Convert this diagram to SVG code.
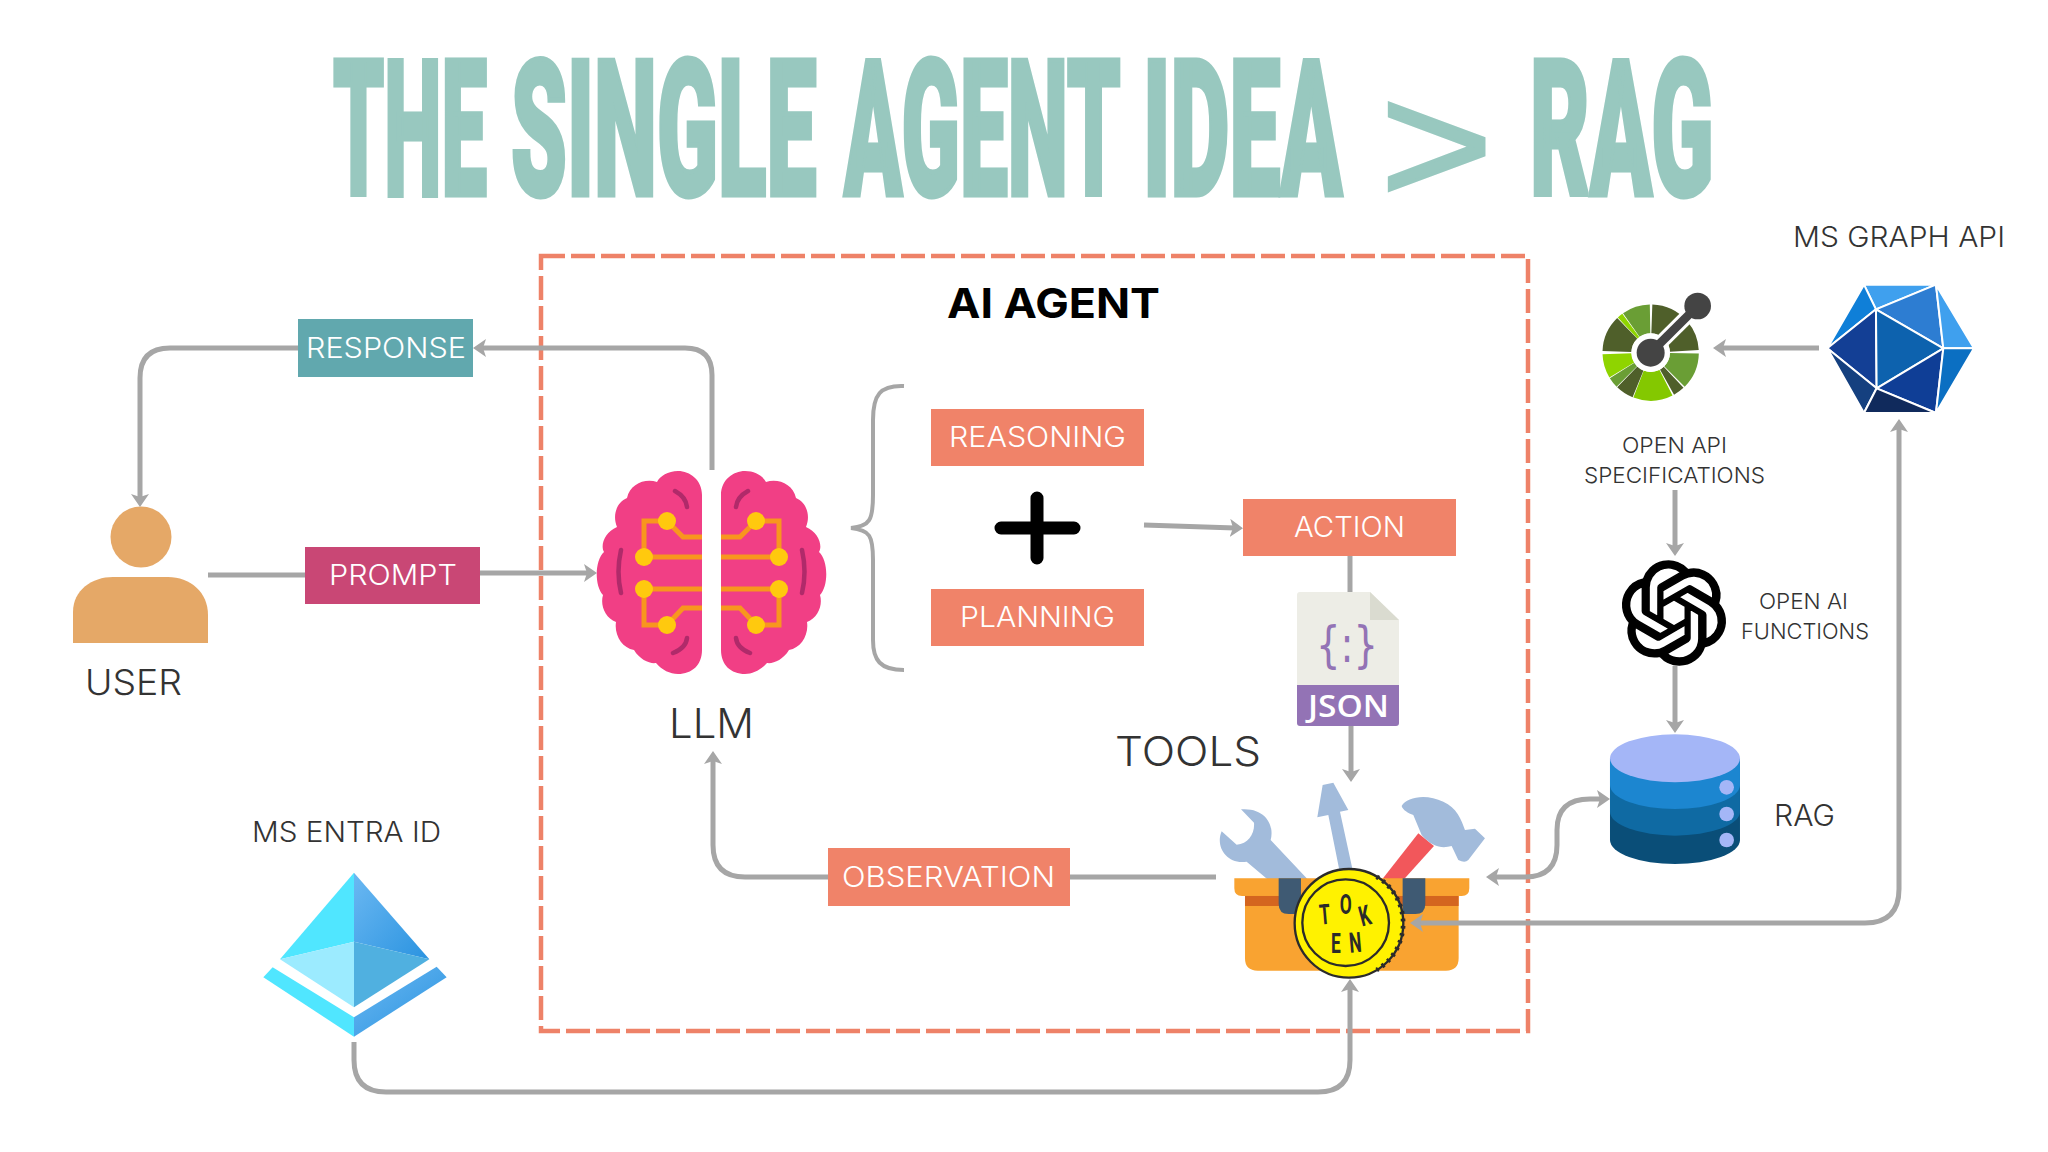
<svg xmlns="http://www.w3.org/2000/svg" width="2048" height="1152" viewBox="0 0 2048 1152">
<style>
text{font-family:"Inter","Liberation Sans",sans-serif}
.ttl{font-family:"Roboto","Liberation Sans",sans-serif;font-weight:900;font-size:190px;fill:#98C8BF;stroke:#98C8BF;stroke-width:5}
.box{font-size:28px;font-weight:300;fill:#fff}
.lbl{font-weight:300;fill:#333;stroke:none}
.sm{font-size:22px}.md{font-size:28px}.lg{font-size:36px}.xl{font-size:41px}
.c{fill:none;stroke:#A6A6A6;stroke-width:5}
.a{marker-end:url(#arr)}.d{marker-start:url(#arr);marker-end:url(#arr)}
.coinl{font-family:"Roboto",sans-serif;font-size:84px;font-weight:700;fill:#2B2B2B;text-anchor:middle}
.w{stroke:#fff;stroke-width:6;stroke-linejoin:round}
.s{fill:none;stroke-width:87}
</style>
<defs>
<marker id="arr" markerUnits="userSpaceOnUse" viewBox="0 0 13 18" refX="5" refY="9" markerWidth="13" markerHeight="18" orient="auto-start-reverse"><path d="M0 0L13 9L0 18L3 9Z" fill="#A6A6A6"/></marker>
<linearGradient id="eg" x1="0" y1="0" x2="1" y2="1"><stop offset="0" stop-color="#6BB8F2"/><stop offset="1" stop-color="#2A93E0"/></linearGradient>
<g id="lobe">
<path d="M702 495C702 480 690 471 678 471C668 471 660 476 657 482C645 478 630 484 627 498C617 502 612 515 617 527C605 532 600 545 604 552C595 560 594 585 603 595C600 605 605 618 616 622C614 635 622 648 634 650C640 660 650 664 656 663C662 670 670 674 678 674C692 674 702 665 702 650Z" fill="#F13F85"/>
<path d="M667 521H644V557M644 557H702M667 521L683 537H702M644 589H702M644 589V625H667M667 625L683 608H702" fill="none" stroke="#F8961E" stroke-width="5"/>
<g fill="#FFC90E"><circle cx="667" cy="521" r="9"/><circle cx="644" cy="557" r="9"/><circle cx="644" cy="589" r="9"/><circle cx="667" cy="625" r="9"/></g>
<path d="M675 491Q686 497 687 507M673 653Q686 648 687 638M621 550Q616 572 621 593" fill="none" stroke="#B02A6A" stroke-width="4.500" stroke-linecap="round"/>
</g>
</defs>
<rect width="2048" height="1152" fill="#fff"/>
<g id="title">
<text class="ttl" transform="translate(333 194.500) scale(.428 1)">THE</text>
<text class="ttl" transform="translate(511 194.500) scale(.471 1)">SINGLE</text>
<text class="ttl" transform="translate(844 194.500) scale(.451 1)">AGENT</text>
<text class="ttl" transform="translate(1143 194.500) scale(.479 1)">IDEA</text>
<text transform="translate(1380 203) scale(1.14 1)" style="font-family:'Liberation Sans',sans-serif;font-size:170px;fill:#98C8BF;stroke:#98C8BF;stroke-width:3">&gt;</text>
<text class="ttl" transform="translate(1530 194.500) scale(.482 1)">RAG</text>
</g>
<g id="agent-frame">
<rect x="541" y="256" width="987" height="775" fill="none" stroke="#EE8268" stroke-width="4.500" stroke-dasharray="24 6"/>
<text x="947" y="318" textLength="213" lengthAdjust="spacingAndGlyphs" style="font-size:41px;font-weight:700;fill:#000">AI AGENT</text>
</g>
<g id="user">
<circle cx="141" cy="537" r="30.500" fill="#E5A867"/>
<path d="M73 643V612C73 590 92 577 113 577H168C190 577 208 592 208 615V643Z" fill="#E5A867"/>
<text class="lbl lg" x="85" y="695" textLength="97" lengthAdjust="spacingAndGlyphs">USER</text>
</g>
<g id="response"><rect x="298" y="319" width="175" height="58" fill="#61A8AE"/><text class="box" x="306" y="358" textLength="160" lengthAdjust="spacingAndGlyphs">RESPONSE</text></g>
<g id="prompt"><rect x="305" y="547" width="175" height="57" fill="#C94775"/><text class="box" x="329" y="585" textLength="128" lengthAdjust="spacingAndGlyphs">PROMPT</text></g>
<g id="llm">
<use href="#lobe"/><use href="#lobe" transform="matrix(-1 0 0 1 1423 0)"/>
<text class="lbl xl" x="669" y="738" textLength="85" lengthAdjust="spacingAndGlyphs">LLM</text>
</g>
<g id="reasoning"><rect x="931" y="409" width="213" height="57" fill="#F08369"/><text class="box" x="949" y="447" textLength="177" lengthAdjust="spacingAndGlyphs">REASONING</text></g>
<g id="plus"><path d="M1001 528H1074M1037 498V558" stroke="#000" stroke-width="13" stroke-linecap="round"/></g>
<g id="planning"><rect x="931" y="589" width="213" height="57" fill="#F08369"/><text class="box" x="960" y="627" textLength="155" lengthAdjust="spacingAndGlyphs">PLANNING</text></g>
<g id="action"><rect x="1243" y="499" width="213" height="57" fill="#F08369"/><text class="box" x="1294" y="537" textLength="111" lengthAdjust="spacingAndGlyphs">ACTION</text></g>
<g id="observation"><rect x="828" y="848" width="242" height="58" fill="#F08369"/><text class="box" x="842" y="887" textLength="213" lengthAdjust="spacingAndGlyphs">OBSERVATION</text></g>
<g id="json">
<path d="M1300 592H1370L1399 620V685H1297V595Q1297 592 1300 592Z" fill="#EDEDE6"/>
<path d="M1370 592L1399 620H1370Z" fill="#DADBD0"/>
<path d="M1297 685H1399V723Q1399 726 1396 726H1300Q1297 726 1297 723Z" fill="#9373B5"/>
<text x="1316" y="662" textLength="62" lengthAdjust="spacingAndGlyphs" style="font-family:'DejaVu Sans',sans-serif;font-size:50px;fill:#9373B5">{:}</text>
<text x="1308" y="717" textLength="81" lengthAdjust="spacingAndGlyphs" style="font-family:'Open Sans',sans-serif;font-size:31px;font-weight:600;fill:#fff">JSON</text>
</g>
<text id="tools-label" class="lbl xl" x="1115" y="766" textLength="146" lengthAdjust="spacingAndGlyphs">TOOLS</text>
<g id="tools" transform="translate(1180 720) scale(.3333)">
<path d="M385 480L272 360C285 310 250 262 183 268L222 308C225 340 205 372 170 374L125 334C105 380 140 435 200 425L265 480Z" fill="#A2BBDB"/>
<path d="M478 450L518 450L480 275L505 270L460 188L428 195L412 292L445 285Z" fill="#A2BBDB"/>
<path d="M605 480L715 340L762 378L670 480Z" fill="#F2575B"/>
<path d="M665 258C680 230 740 220 790 245C830 262 845 300 855 330L885 326L915 355L865 420Q855 430 835 420L815 378C790 385 760 385 725 345L700 285C685 280 668 270 665 258Z" fill="#A2BBDB"/>
<path d="M163 475H868V505Q868 528 845 528H836V715Q836 752 798 752H233Q195 752 195 715V528H186Q163 528 163 505Z" fill="#F9A331"/>
<rect x="195" y="528" width="641" height="30" fill="#D4651F"/>
<path d="M296 475H363V582H326Q296 582 296 552Z" fill="#3F5A73"/>
<path d="M668 475H736V552Q736 582 706 582H668Z" fill="#3F5A73"/>
<circle cx="507" cy="610" r="163" fill="#FFF200" stroke="#2B2B2B" stroke-width="7"/>
<path d="M590 470A163 163 0 0 1 590 750" fill="none" stroke="#2B2B2B" stroke-width="14" stroke-dasharray="8 14"/>
<circle cx="497" cy="608" r="130" fill="#FFF200" stroke="#2B2B2B" stroke-width="7"/>
<text class="coinl" transform="translate(437 612) rotate(-5) scale(.62 1)">T</text>
<text class="coinl" transform="translate(497 582) scale(.62 1)">O</text>
<text class="coinl" transform="translate(562 615) rotate(-15) scale(.62 1)">K</text>
<text class="coinl" transform="translate(468 700) scale(.62 1)">E</text>
<text class="coinl" transform="translate(528 697) rotate(-5) scale(.62 1)">N</text>
</g>
<g id="entra" transform="translate(230 860) scale(.3333)">
<path d="M372 38L150 298L372 245Z" fill="#50E6FF"/>
<path d="M372 38L598 298L372 245Z" fill="url(#eg)"/>
<path d="M150 298L372 245V442Z" fill="#9CEBFF"/>
<path d="M598 298L372 245V442Z" fill="#50B0E0"/>
<path d="M128 322L100 352L372 530V472Z" fill="#50E6FF"/>
<path d="M620 320L650 352L372 530V472Z" fill="url(#eg)"/>
</g>
<text id="entra-label" class="lbl md" x="252" y="842" textLength="189" lengthAdjust="spacingAndGlyphs">MS ENTRA ID</text>
<g id="openapi" transform="translate(1560 200) scale(.3333)">
<circle class="s" cx="272" cy="458" r="101" pathLength="360" stroke="#4F5F2A" stroke-dasharray="47 313" transform="rotate(-88 272 458)"/>
<circle class="s" cx="272" cy="458" r="101" pathLength="360" stroke="#6A9E35" stroke-dasharray="34 326" transform="rotate(-125 272 458)"/>
<circle class="s" cx="272" cy="458" r="101" pathLength="360" stroke="#8FD400" stroke-dasharray="7 353" transform="rotate(-133 272 458)"/>
<circle class="s" cx="272" cy="458" r="101" pathLength="360" stroke="#4F5F2A" stroke-dasharray="44 316" transform="rotate(-178 272 458)"/>
<circle class="s" cx="272" cy="458" r="101" pathLength="360" stroke="#4F5F2A" stroke-dasharray="38 322" transform="rotate(-41 272 458)"/>
<circle class="s" cx="272" cy="458" r="101" pathLength="360" stroke="#6A9E35" stroke-dasharray="44 316" transform="rotate(1 272 458)"/>
<circle class="s" cx="272" cy="458" r="101" pathLength="360" stroke="#4F5F2A" stroke-dasharray="14 346" transform="rotate(47 272 458)"/>
<circle class="s" cx="272" cy="458" r="101" pathLength="360" stroke="#84C800" stroke-dasharray="48 312" transform="rotate(63 272 458)"/>
<circle class="s" cx="272" cy="458" r="101" pathLength="360" stroke="#4F5F2A" stroke-dasharray="22 338" transform="rotate(112 272 458)"/>
<circle class="s" cx="272" cy="458" r="101" pathLength="360" stroke="#6A9E35" stroke-dasharray="13 347" transform="rotate(135 272 458)"/>
<circle class="s" cx="272" cy="458" r="101" pathLength="360" stroke="#8FD400" stroke-dasharray="29 331" transform="rotate(149 272 458)"/>
<circle cx="272" cy="458" r="58" fill="#fff"/>
<path d="M272 458L413 318" stroke="#fff" stroke-width="44"/>
<path d="M272 458L413 318" stroke="#444" stroke-width="26"/>
<circle cx="272" cy="458" r="42" fill="#444"/>
<circle cx="413" cy="318" r="40" fill="#444"/>
</g>
<g id="openapi-label">
<text class="lbl sm" x="1622" y="453" textLength="105" lengthAdjust="spacingAndGlyphs">OPEN API</text>
<text class="lbl sm" x="1584" y="483" textLength="181" lengthAdjust="spacingAndGlyphs">SPECIFICATIONS</text>
</g>
<g id="graph" transform="translate(1560 200) scale(.3333)">
<path class="w" d="M912 254H1128L948 328Z" fill="#3FA0EE"/>
<path class="w" d="M912 254L948 328L802 445Z" fill="#0F7FD8"/>
<path class="w" d="M948 328L1128 254L1150 445Z" fill="#2D7DD2"/>
<path class="w" d="M1128 254L1242 445H1150Z" fill="#3FA0EE"/>
<path class="w" d="M802 445L948 328L950 565Z" fill="#133F95"/>
<path class="w" d="M948 328L1150 445L950 565Z" fill="#0D62AE"/>
<path class="w" d="M950 565L1150 445L1128 639Z" fill="#0F3E96"/>
<path class="w" d="M1150 445L1242 445L1128 639Z" fill="#0B6FC2"/>
<path class="w" d="M802 445L950 565L912 639Z" fill="#15407F"/>
<path class="w" d="M950 565L1128 639H912Z" fill="#102A5C"/>
</g>
<text id="graph-label" class="lbl md" x="1793" y="247" textLength="212" lengthAdjust="spacingAndGlyphs">MS GRAPH API</text>
<g id="openai" transform="translate(1622 561) scale(4.33)">
<path stroke="#000" stroke-width=".35" fill="#000" d="M22.2819 9.8211a5.9847 5.9847 0 0 0-.5157-4.9108 6.0462 6.0462 0 0 0-6.5098-2.9A6.0651 6.0651 0 0 0 4.9807 4.1818a5.9847 5.9847 0 0 0-3.9977 2.9 6.0462 6.0462 0 0 0 .7427 7.0966 5.98 5.98 0 0 0 .511 4.9107 6.051 6.051 0 0 0 6.5146 2.9001A5.9847 5.9847 0 0 0 13.2599 24a6.0557 6.0557 0 0 0 5.7718-4.2058 5.9894 5.9894 0 0 0 3.9977-2.9001 6.0557 6.0557 0 0 0-.7475-7.0729zm-9.022 12.6081a4.4755 4.4755 0 0 1-2.8764-1.0408l.1419-.0804 4.7783-2.7582a.7948.7948 0 0 0 .3927-.6813v-6.7369l2.02 1.1686a.071.071 0 0 1 .038.052v5.5826a4.504 4.504 0 0 1-4.4945 4.4944zm-9.6607-4.1254a4.4708 4.4708 0 0 1-.5346-3.0137l.142.0852 4.783 2.7582a.7712.7712 0 0 0 .7806 0l5.8428-3.3685v2.3324a.0804.0804 0 0 1-.0332.0615L9.74 19.9502a4.4992 4.4992 0 0 1-6.1408-1.6464zM2.3408 7.8956a4.485 4.485 0 0 1 2.3655-1.9728V11.6a.7664.7664 0 0 0 .3879.6765l5.8144 3.3543-2.0201 1.1685a.0757.0757 0 0 1-.071 0l-4.8303-2.7865A4.504 4.504 0 0 1 2.3408 7.872zm16.5963 3.8558L13.1038 8.364 15.1192 7.2a.0757.0757 0 0 1 .071 0l4.8303 2.7913a4.4944 4.4944 0 0 1-.6765 8.1042v-5.6772a.79.79 0 0 0-.407-.667zm2.0107-3.0231l-.142-.0852-4.7735-2.7818a.7759.7759 0 0 0-.7854 0L9.409 9.2297V6.8974a.0662.0662 0 0 1 .0284-.0615l4.8303-2.7866a4.4992 4.4992 0 0 1 6.6802 4.66zM8.3065 12.863l-2.02-1.1638a.0804.0804 0 0 1-.038-.0567V6.0742a4.4992 4.4992 0 0 1 7.3757-3.4537l-.142.0805L8.704 5.459a.7948.7948 0 0 0-.3927.6813zm1.0976-2.3654l2.602-1.4998 2.6069 1.4998v2.9994l-2.5974 1.4997-2.6067-1.4997Z"/>
</g>
<g id="openai-label">
<text class="lbl sm" x="1759" y="609" textLength="89" lengthAdjust="spacingAndGlyphs">OPEN AI</text>
<text class="lbl sm" x="1741" y="639" textLength="128" lengthAdjust="spacingAndGlyphs">FUNCTIONS</text>
</g>
<g id="rag" transform="translate(1560 540) scale(.3333)">
<path d="M150 655H540V900A195 72 0 0 1 150 900Z" fill="#0A4E78"/>
<path d="M150 655H540V815A195 72 0 0 1 150 815Z" fill="#0F6AA3"/>
<path d="M150 655H540V735A195 72 0 0 1 150 735Z" fill="#1C86D0"/>
<ellipse cx="345" cy="655" rx="195" ry="72" fill="#A4B6F7"/>
<g fill="#A4B6F7"><circle cx="500" cy="742" r="22"/><circle cx="500" cy="822" r="22"/><circle cx="500" cy="900" r="22"/></g>
</g>
<text id="rag-label" class="lbl" style="font-size:30px" x="1774" y="826" textLength="61" lengthAdjust="spacingAndGlyphs">RAG</text>
<g id="connectors">
<path class="c a" d="M712 470V375Q712 348 685 348H481"/>
<path class="c a" d="M298 348H170Q140 348 140 378V499"/>
<path class="c" d="M208 575H305"/>
<path class="c a" d="M480 573H589"/>
<path class="c a" d="M1144 525L1235 528"/>
<path class="c" d="M1350 556V592"/>
<path class="c a" d="M1351 726V774"/>
<path class="c" d="M1216 877H1070"/>
<path class="c a" d="M828 877H745Q713 877 713 845V759"/>
<path class="c d" d="M1602 799H1590Q1557 799 1557 830V845Q1557 877 1525 877H1494"/>
<path class="c a" d="M1819 348H1721"/>
<path class="c a" d="M1675 490V548"/>
<path class="c a" d="M1675 666V725"/>
<path class="c a" d="M354 1042V1060Q354 1092 386 1092H1318Q1350 1092 1350 1060V987"/>
<path class="c d" d="M1418 923H1865Q1899 923 1899 889V427"/>
<path id="brace" d="M904 386C880 385 873 395 873 420V495C873 520 870 526 851 528C870 530 873 536 873 560V640C873 660 880 670 904 670" fill="none" stroke="#A6A6A6" stroke-width="4"/>
</g>
</svg>
